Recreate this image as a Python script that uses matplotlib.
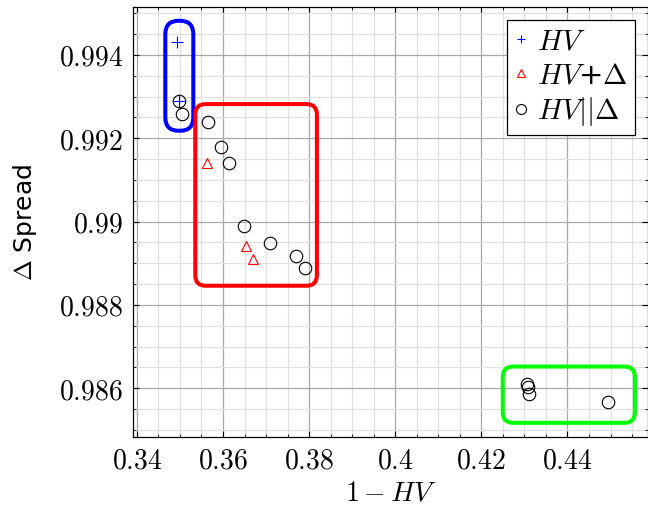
import matplotlib
matplotlib.use("Agg")
import matplotlib.pyplot as plt
from matplotlib.patches import FancyBboxPatch
from matplotlib.ticker import MultipleLocator, FuncFormatter

plt.rcParams['mathtext.fontset'] = 'cm'

# HV only
hv_x = [0.3493, 0.3497]
hv_y = [0.99430, 0.99290]

# HV + Delta
hvd_x = [0.3564, 0.3654, 0.3669]
hvd_y = [0.99141, 0.98941, 0.98911]

# HV || Delta
par_x = [0.3497, 0.3505, 0.3565, 0.3596, 0.3614, 0.3649, 0.3709, 0.3769, 0.3790,
         0.4306, 0.4308, 0.4310, 0.4493]
par_y = [0.99290, 0.99259, 0.99239, 0.99179, 0.99140, 0.98989, 0.98949, 0.98918, 0.98889,
         0.98609, 0.98602, 0.98586, 0.98568]

# highlighted groups (x0, y0, x1, y1, colour, corner radius in x units)
groups = [
    (0.34661, 0.99218, 0.35311, 0.99482, 'blue', 0.0031),
    (0.35357, 0.98846, 0.38181, 0.99282, 'red', 0.0024),
    (0.42497, 0.98517, 0.45566, 0.98652, 'lime', 0.0024),
]

fig = plt.figure(figsize=(6.48, 5.09), dpi=100)
ax = fig.add_axes([0.2052, 0.1415, 0.7948, 0.8447])

ax.set_xlim(0.3391, 0.4587)
ax.set_ylim(0.98483, 0.99515)

ax.xaxis.set_major_locator(MultipleLocator(0.02))
ax.xaxis.set_minor_locator(MultipleLocator(0.005))
ax.yaxis.set_major_locator(MultipleLocator(0.002))
ax.yaxis.set_minor_locator(MultipleLocator(0.0005))
fmt = FuncFormatter(lambda v, p: '$%s$' % ('%g' % round(v, 4)))
ax.xaxis.set_major_formatter(fmt)
ax.yaxis.set_major_formatter(fmt)

ax.grid(which='major', color='#a8a8a8', lw=0.9)
ax.grid(which='minor', color='#e0e0e0', lw=0.9)
ax.set_axisbelow(True)
ax.tick_params(which='both', direction='in', top=True, right=True, labelsize=20, pad=7)
ax.tick_params(which='major', length=4, width=0.8)
ax.tick_params(which='minor', length=2.5, width=0.6)
for s in ax.spines.values():
    s.set_linewidth(0.9)

# aspect between y and x data units per pixel
asp = (1 / 41650) / (1 / 4310)
for x0, y0, x1, y1, c, r in groups:
    box = FancyBboxPatch((x0, y0), x1 - x0, y1 - y0,
                         boxstyle='round,pad=0,rounding_size=%g' % r,
                         mutation_aspect=asp, fill=False, ec=c, lw=2.9, zorder=2)
    ax.add_patch(box)

ax.plot(hv_x, hv_y, ls='none', marker='+', color='blue', ms=8, mew=0.8,
        label='$HV$', zorder=4)
ax.plot(hvd_x, hvd_y, ls='none', marker='^', mfc='none', mec='red', ms=7, mew=0.8,
        label='$HV$+$\\Delta$', zorder=4)
ax.plot(par_x, par_y, ls='none', marker='o', mfc='none', mec='black', ms=9, mew=0.8,
        label='$HV||\\Delta$', zorder=3)

leg = ax.legend(loc='upper right', bbox_to_anchor=(0.975, 0.97), borderaxespad=0,
                fontsize=21, fancybox=False, edgecolor='black', framealpha=1,
                handlelength=0.5, handletextpad=0.3, labelspacing=0.2,
                borderpad=0.25, markerscale=0.8)
leg.get_frame().set_linewidth(0.9)

ax.set_xlabel('$1-HV$', fontsize=20, labelpad=3)
ax.set_ylabel('$\\Delta$ Spread', fontsize=18, labelpad=14)

fig.savefig('out.png', dpi=100)
